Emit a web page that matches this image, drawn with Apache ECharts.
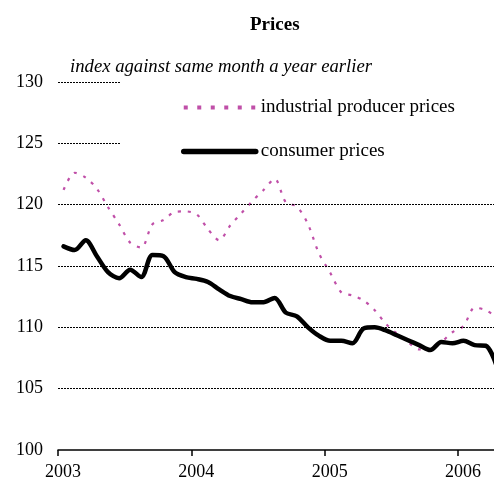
<!DOCTYPE html>
<html>
<head>
<meta charset="utf-8">
<script src="https://cdn.jsdelivr.net/npm/echarts@6/dist/echarts.min.js"></script>
<style>
  html, body { margin: 0; padding: 0; background: #fff; }
  #chart { width: 494px; height: 483px; }
</style>
</head>
<body>
<div id="chart"></div>
<script>
// monthly values, Jan 2003 .. Apr 2006
var yearLabels = ['2003', '2004', '2005', '2006'];
var consumer = [
    116.6, 116.3, 117.1, 115.8, 114.5, 114.0, 114.7, 114.1, 115.9, 115.8, 114.5, 114.1,
    113.95, 113.7, 113.1, 112.55, 112.3, 112.05, 112.05, 112.4, 111.2, 110.9, 110.0, 109.3,
    108.9, 108.9, 108.7, 109.9, 110.0, 109.75, 109.35, 108.95, 108.55, 108.15, 108.8, 108.7,
    108.9, 108.55, 108.5, 106.8
];
var producer = [
    121.2, 122.6, 122.2, 121.3, 119.8, 118.4, 116.9, 116.5, 118.4, 118.75, 119.4, 119.45,
    119.2, 118.0, 117.1, 118.3, 119.3, 120.3, 121.2, 122.1, 120.2, 119.85, 118.4, 116.0,
    114.45, 112.85, 112.6, 112.2, 111.4, 110.3, 109.5, 108.8, 108.2, 108.2, 108.8, 109.6,
    110.1, 111.6, 111.4, 110.8
];
var fullGridLines = [105, 110, 115, 120];
var shortGridLines = [125, 130];

var toPoints = function (arr) {
    var out = [];
    for (var i = 0; i < arr.length; i++) {
        out.push([i + 0.5, arr[i]]);
    }
    return out;
};

var gridMarks = [];
for (var i = 0; i < fullGridLines.length; i++) {
    gridMarks.push({ yAxis: fullGridLines[i] });
}
for (var j = 0; j < shortGridLines.length; j++) {
    gridMarks.push([{ coord: [0, shortGridLines[j]] }, { coord: [5.6, shortGridLines[j]] }]);
}

var serif = '"Liberation Serif", "Times New Roman", serif';
var pink = '#c04fa8';
var noSymbol = { color: 'rgba(0,0,0,0)', borderWidth: 0, opacity: 0 };

var myChart = echarts.init(document.getElementById('chart'));
var option = {
    animation: false,
    title: [
        {
            text: 'Prices',
            left: 245,
            top: 11,
            textStyle: { fontFamily: serif, fontWeight: 'bold', fontSize: 19, color: '#000' }
        },
        {
            text: 'index against same month a year earlier',
            left: 65,
            top: 53,
            textStyle: { fontFamily: serif, fontStyle: 'italic', fontWeight: 'normal', fontSize: 18.7, color: '#000' }
        }
    ],
    legend: {
        orient: 'vertical',
        left: 176,
        top: 93,
        itemWidth: 72,
        itemHeight: 14,
        itemGap: 25,
        itemStyle: noSymbol,
        textStyle: { fontFamily: serif, fontSize: 19, color: '#000', padding: [3, 0, 0, 0] },
        data: [
            {
                name: 'industrial producer prices',
                itemStyle: noSymbol,
                lineStyle: { color: pink, width: 4, type: [4, 9.5] }
            },
            {
                name: 'consumer prices',
                itemStyle: noSymbol,
                lineStyle: { color: '#000', width: 5.5, cap: 'round' }
            }
        ]
    },
    grid: { left: 58, right: 0, top: 82, bottom: 33 },
    xAxis: {
        type: 'value',
        min: 0,
        max: 39.24,
        interval: 12,
        splitLine: { show: false },
        axisLine: { lineStyle: { color: '#000', width: 1.5 } },
        axisTick: { length: 6, lineStyle: { color: '#000', width: 1.5 }, customValues: [0, 12, 24, 36] },
        axisLabel: {
            customValues: [0, 12, 24, 36],
            formatter: function (v) { return yearLabels[Math.round(v / 12)]; },
            fontFamily: serif,
            fontSize: 18,
            color: '#000',
            margin: 13,
            padding: [0, 0, 0, 10]
        }
    },
    yAxis: {
        type: 'value',
        min: 100,
        max: 130,
        interval: 5,
        splitLine: { show: false },
        axisLine: { show: false },
        axisTick: { show: false },
        axisLabel: { fontFamily: serif, fontSize: 18, color: '#000', margin: 15 }
    },
    series: [
        {
            name: 'grid',
            type: 'line',
            data: [],
            z: 1,
            silent: true,
            markLine: {
                silent: true,
                symbol: 'none',
                label: { show: false },
                lineStyle: { color: '#000', width: 1, type: [2, 1] },
                data: gridMarks
            }
        },
        {
            name: 'industrial producer prices',
            type: 'line',
            data: toPoints(producer),
            smooth: 0.3,
            symbol: 'none',
            z: 2,
            lineStyle: { color: pink, width: 2.2, type: [3, 7] },
            itemStyle: { color: pink }
        },
        {
            name: 'consumer prices',
            type: 'line',
            data: toPoints(consumer),
            smooth: 0.3,
            symbol: 'none',
            z: 3,
            lineStyle: { color: '#000', width: 4.5, cap: 'round', join: 'round' },
            itemStyle: { color: '#000' }
        }
    ]
};
myChart.setOption(option);
</script>
</body>
</html>
